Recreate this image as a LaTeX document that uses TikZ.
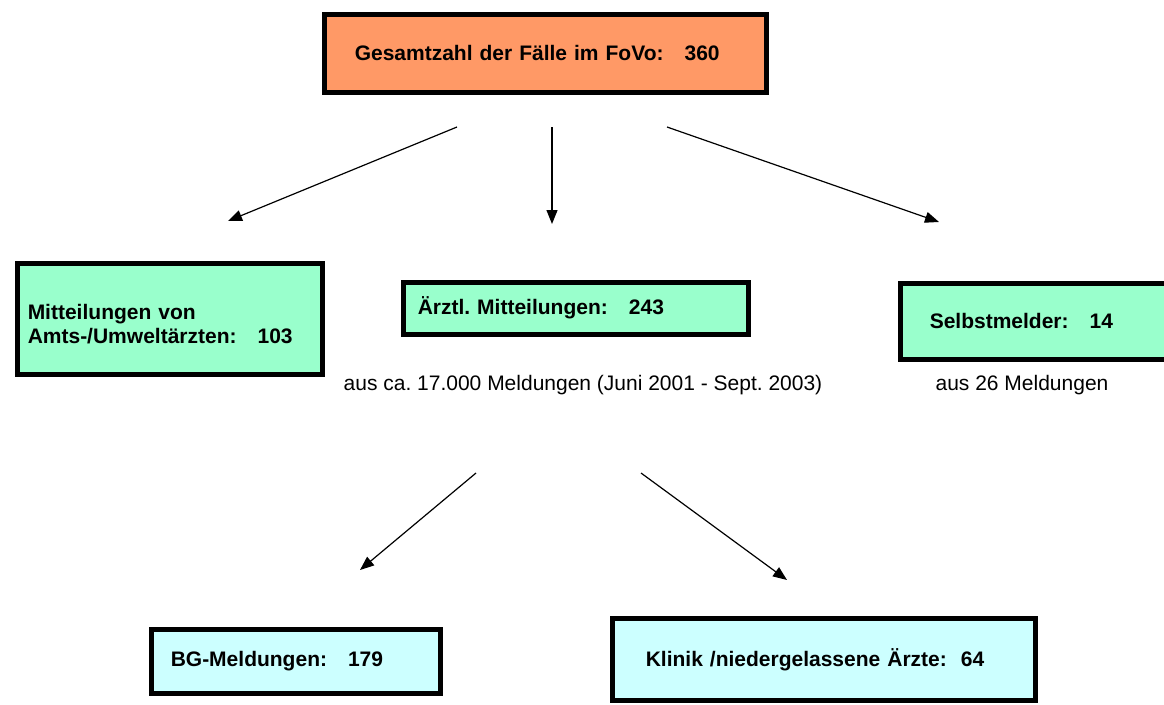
\documentclass[tikz,border=0pt]{standalone}
\usepackage{fontspec}
\setmainfont{Liberation Sans}
\usepackage{tikz}
\usetikzlibrary{arrows.meta,positioning}
\definecolor{fovoorange}{HTML}{FF9966}
\definecolor{fovogreen}{HTML}{99FFCC}
\definecolor{fovocyan}{HTML}{CCFFFF}
\frenchspacing

\begin{document}
\begin{tikzpicture}[x=1pt, y=-1pt,
    fallbox/.style={draw=black, line width=5.5pt, rectangle, anchor=north west, align=left, inner ysep=0pt,
        font=\fontsize{21}{24}\selectfont\bfseries},
    hinweis/.style={font=\fontsize{21}{24}\selectfont},
    pfeil/.style={line width=1.2pt, -{Triangle[length=14pt,width=11pt]}}]
    \useasboundingbox (0,0) rectangle (1164,704);
    \node[fallbox, fill=fovoorange, minimum width=442pt, minimum height=78pt, inner xsep=30.5pt, text width=381pt] (gesamt) at (321.5,11.5) {Gesamtzahl der Fälle im FoVo:\ \ \ 360};
    \node[fallbox, fill=fovogreen, minimum width=305pt, minimum height=111pt, inner xsep=10.5pt, text width=284pt] (amts) at (14.5,260.5) {\\[2pt]Mitteilungen von\\Amts-/Umweltärzten:\ \ \ 103};
    \node[fallbox, fill=fovogreen, minimum width=345pt, minimum height=52pt, inner xsep=14.5pt, text width=316pt] (aerztl) at (400.5,279.5) {Ärztl. Mitteilungen:\ \ \ 243};
    \node[fallbox, fill=fovogreen, minimum width=268pt, minimum height=76pt, inner xsep=29.5pt, text width=209pt] (selbst) at (897.5,280.5) {Selbstmelder:\ \ \ 14};
    \node[fallbox, fill=fovocyan, minimum width=289pt, minimum height=64pt, inner xsep=19.5pt, text width=250pt] (bg) at (148.5,626.5) {BG-Meldungen:\ \ \ 179};
    \node[fallbox, fill=fovocyan, minimum width=423pt, minimum height=82pt, inner xsep=33.5pt, text width=356pt] (klinik) at (609.5,615.5) {Klinik /niedergelassene Ärzte:\ \ 64};
    \node[hinweis] (quelle) at (583,385) {aus ca. 17.000 Meldungen (Juni 2001 - Sept. 2003)};
    \node[hinweis] (quelleselbst) at (1022,385) {aus 26 Meldungen};

    \coordinate (a1) at (457,127);
    \coordinate (a2) at (552,127);
    \coordinate (a3) at (667,127);
    \coordinate (e1) at (228,221);
    \coordinate (e2) at (552,224);
    \coordinate (e3) at (939,222);
    \coordinate (b1) at (476,473);
    \coordinate (b2) at (641,473);
    \coordinate (f1) at (360,570);
    \coordinate (f2) at (787,580);
    \draw[pfeil] (a1) -- (e1);
    \draw[pfeil] (a2) -- (e2);
    \draw[pfeil] (a3) -- (e3);
    \draw[pfeil] (b1) -- (f1);
    \draw[pfeil] (b2) -- (f2);
\end{tikzpicture}
\end{document}
